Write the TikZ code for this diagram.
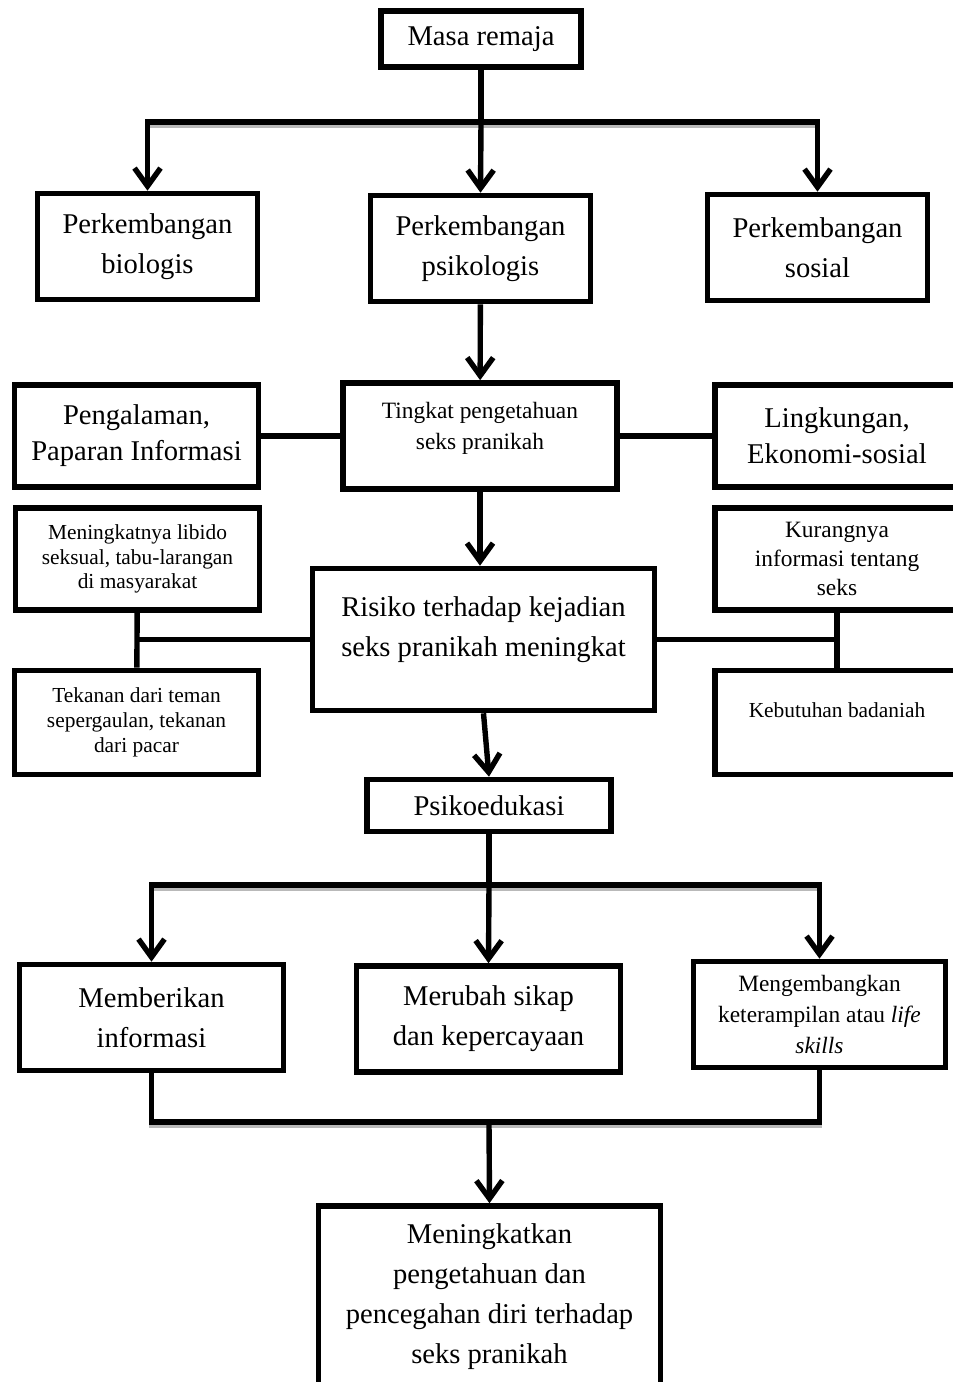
\documentclass[tikz,border=0pt]{standalone}
\usepackage{fontspec}
\setmainfont{Liberation Serif}
\usetikzlibrary{arrows.meta}

\begin{document}
\begin{tikzpicture}[x=0.5pt, y=-0.5pt,
  blok/.style={draw, rectangle, line width=2.8pt, align=center, inner sep=2pt},
  bigtext/.style={font=\fontsize{14.3}{20}\selectfont},
  midtext/.style={font=\fontsize{11.7}{15.5}\selectfont},
  smalltext/.style={font=\fontsize{10.7}{12.4}\selectfont},
  link/.style={line width=2.7pt},
  bar/.style={line width=2.7pt, line cap=rect, preaction={draw=gray!55, line width=2.7pt, transform canvas={yshift=-1.5pt}}},
  flowarrow/.style={line width=2.7pt, -{Straight Barb[length=9pt,width=13pt]}}]
\useasboundingbox (0,0) rectangle (953,1382);
\clip (0,0) rectangle (953,1382);

\node[blok, bigtext, minimum width=100pt, minimum height=28pt] (masa) at (481,39) {\raisebox{-2pt}{Masa remaja}};
\node[blok, bigtext, minimum width=110pt, minimum height=53pt] (bio) at (147.5,246.5) {Perkembangan\\biologis};
\node[blok, bigtext, minimum width=110pt, minimum height=53pt] (psi) at (480.5,248.5) {Perkembangan\\psikologis};
\node[blok, bigtext, minimum width=110pt, minimum height=53pt] (sos) at (817.5,247.5) {Perkembangan\\sosial};

\node[blok, bigtext, minimum width=122pt, minimum height=51pt] (alami) at (136.5,436) {Pengalaman,\\[-2pt]Paparan Informasi};
\node[blok, midtext, minimum width=137pt, minimum height=53pt] (tingkat) at (480,436) {Tingkat pengetahuan\\seks pranikah\\[-5.5pt] \mbox{}};
\node[blok, bigtext, minimum width=122pt, minimum height=51pt] (lingkung) at (837,436) {Lingkungan,\\[-2pt]Ekonomi-sosial};

\node[blok, smalltext, minimum width=122pt, minimum height=51pt] (libido) at (137.5,559) {Meningkatnya libido\\seksual, tabu-larangan\\di masyarakat};
\node[blok, midtext, minimum width=122pt, minimum height=51pt] (kurang) at (837,559) {Kurangnya\\[-1pt]informasi tentang\\[-1pt]seks};
\node[blok, bigtext, minimum width=171pt, minimum height=71pt] (risiko) at (483.5,639.5) {Risiko terhadap kejadian\\seks pranikah meningkat\\[-7pt] \mbox{}};
\node[blok, smalltext, minimum width=122pt, minimum height=52pt] (tekan) at (136.5,722.5) {Tekanan dari teman\\sepergaulan, tekanan\\dari pacar};
\node[blok, smalltext, minimum width=122pt, minimum height=52pt] (badan) at (837,722.5) {Kebutuhan badaniah\\ \mbox{}};

\node[blok, bigtext, minimum width=122pt, minimum height=26pt] (psiko) at (489,805.5) {Psikoedukasi};
\node[blok, bigtext, minimum width=132pt, minimum height=53pt] (beri) at (151.5,1017.5) {Memberikan\\informasi};
\node[blok, bigtext, minimum width=132pt, minimum height=53pt] (ubah) at (488.5,1019) {Merubah sikap\\dan kepercayaan};
\node[blok, midtext, minimum width=126pt, minimum height=53pt] (kembang) at (819.5,1014.5) {Mengembangkan\\keterampilan atau \textit{life}\\\textit{skills}};
\node[blok, bigtext, minimum width=171pt, minimum height=104pt] (hasil) at (489.5,1310) {Meningkatkan\\pengetahuan dan\\pencegahan diri terhadap\\seks pranikah\\[-4pt] \mbox{}};

\coordinate (split1) at (481,122);
\coordinate (split2) at (489,885);
\coordinate (join) at (489,1122);

\draw[link] (masa) -- (split1);
\draw[bar] (bio |- split1) -- (sos |- split1);
\draw[flowarrow] (bio |- split1) -- (bio.north);
\draw[flowarrow] (split1) -- (psi.north);
\draw[flowarrow] (sos |- split1) -- (sos.north);

\draw[flowarrow] (psi) -- (tingkat);
\draw[link] (alami) -- (tingkat);
\draw[link] (tingkat) -- (lingkung);
\draw[flowarrow] (tingkat.south) -- (tingkat.south |- risiko.north);

\draw[link] (libido) -- (tekan);
\draw[link] (risiko.west) -- (risiko.west -| libido.south);
\draw[link] (kurang) -- (badan);
\draw[link] (risiko.east) -- (risiko.east -| kurang.south);
\draw[flowarrow] (risiko.south) -- (psiko.north);

\draw[link] (psiko) -- (split2);
\draw[bar] (beri |- split2) -- (kembang |- split2);
\draw[flowarrow] (beri |- split2) -- (beri.north);
\draw[flowarrow] (split2) -- (ubah.north);
\draw[flowarrow] (kembang |- split2) -- (kembang.north);

\draw[bar] (beri.south) |- (join) -| (kembang.south);
\draw[flowarrow] (join) -- (hasil.north);
\end{tikzpicture}
\end{document}
